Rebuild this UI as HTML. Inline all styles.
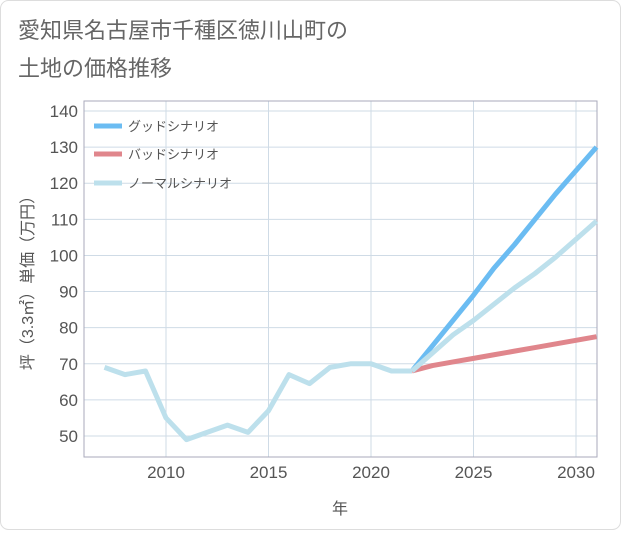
<!DOCTYPE html>
<html><head><meta charset="utf-8"><style>
html,body{margin:0;padding:0;background:#fff;}
body{width:621px;height:530px;overflow:hidden;font-family:"Liberation Sans","Noto Sans CJK JP",sans-serif;}
</style></head><body>
<svg width="621" height="530" xmlns="http://www.w3.org/2000/svg">
<rect x="0.5" y="0.5" width="620" height="529" rx="8" fill="#fff" stroke="#ddd"/>
<text x="18" y="38" font-size="22" fill="#666">愛知県名古屋市千種区徳川山町の</text>
<text x="18" y="76" font-size="22" fill="#666">土地の価格推移</text>
<g id="grid"></g>
<rect x="84" y="101" width="513" height="356" fill="none" stroke="#aab"/>
<g id="yt"></g>
<g id="xt"></g>
<g id="lines"></g>
<text transform="translate(33,279) rotate(-90)" font-size="16" fill="#555" text-anchor="middle">坪（3.3㎡）単価（万円）</text>
<text x="340" y="514" font-size="16" fill="#555" text-anchor="middle">年</text>
<g>
<line x1="94" y1="126" x2="122" y2="126" stroke="#6bbcf2" stroke-width="5"/>
<text x="128" y="131" font-size="13" fill="#555">グッドシナリオ</text>
<line x1="94" y1="154" x2="122" y2="154" stroke="#e0868c" stroke-width="5"/>
<text x="128" y="159" font-size="13" fill="#555">バッドシナリオ</text>
<line x1="94" y1="183" x2="122" y2="183" stroke="#bde0ec" stroke-width="5"/>
<text x="128" y="188" font-size="13" fill="#555">ノーマルシナリオ</text>
</g>
</svg>
<script>
const histYears=[2007,2008,2009,2010,2011,2012,2013,2014,2015,2016,2017,2018,2019,2020,2021,2022];
const histValues=[69,67,68,55,49,51,53,51,57,67,64.5,69,70,70,68,68];
const futYears=[2022,2023,2024,2025,2026,2027,2028,2029,2030,2031];
const goodValues=[68,75,82,89,96.5,103,110,117,123.5,130];
const badValues=[68,69.5,70.5,71.5,72.5,73.5,74.5,75.5,76.5,77.5];
const normalValues=[68,73,78,82,86.5,91,95,99.5,104.5,109.5];
const yTicks=[50,60,70,80,90,100,110,120,130,140];
const xTicks=[2010,2015,2020,2025,2030];
const NS='http://www.w3.org/2000/svg';
const X=y=>166+(y-2010)*20.5;
const Y=v=>436-(v-50)*3.611;
const grid=document.getElementById('grid'),yt=document.getElementById('yt'),xt=document.getElementById('xt'),lines=document.getElementById('lines');
function mk(t,a,p){const e=document.createElementNS(NS,t);for(const k in a)e.setAttribute(k,a[k]);p.appendChild(e);return e;}
yTicks.forEach(v=>{
 const l=mk('line',{x1:84,x2:597,y1:Y(v),y2:Y(v),stroke:'#cfdbe6','stroke-width':1},grid);
 
 
 const t=mk('text',{x:78,y:Y(v)+6,'font-size':17,fill:'#555','text-anchor':'end'},yt);
 t.textContent=v;
 
 
});
xTicks.forEach(v=>{
 const l=mk('line',{x1:X(v),x2:X(v),y1:101,y2:457,stroke:'#cfdbe6','stroke-width':1},grid);
 
 
 const t=mk('text',{x:X(v),y:478,'font-size':17,fill:'#555','text-anchor':'middle'},xt);
 t.textContent=v;
 
 
});
function line(xs,vs,col,name){
 const p=mk('polyline',{points:xs.map((x,i)=>X(x)+','+Y(vs[i])).join(' '),fill:'none',stroke:col,'stroke-width':5,'stroke-linejoin':'round'},lines);
 
 
}
line(futYears,badValues,'#e0868c','bad-scenario-line');
line(futYears,goodValues,'#6bbcf2','good-scenario-line');
line(futYears,normalValues,'#bde0ec','normal-scenario-line');
line(histYears,histValues,'#bde0ec','historical-line');
</script>
</body></html>
